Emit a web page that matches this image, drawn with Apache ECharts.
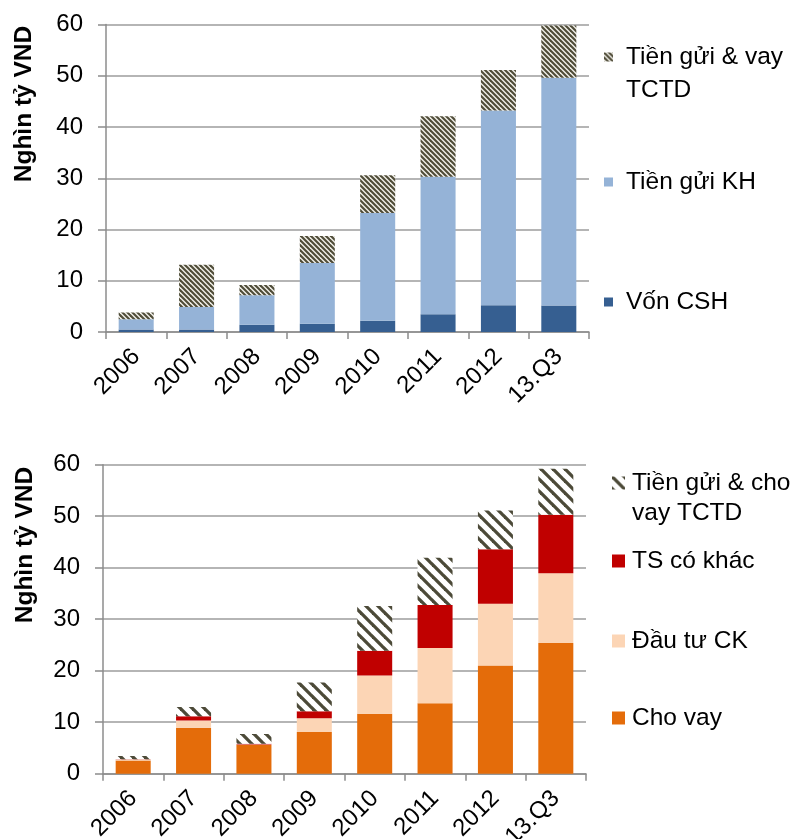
<!DOCTYPE html>
<html>
<head>
<meta charset="utf-8">
<script src="https://cdn.jsdelivr.net/npm/echarts@6/dist/echarts.min.js"></script>
<style>
  html, body { margin: 0; padding: 0; background: #fff; }
  #chart { width: 792px; height: 839px; }
</style>
</head>
<body>
<div id="chart"></div>
<script>
// Categories (shared by both panels)
const years = ['2006', '2007', '2008', '2009', '2010', '2011', '2012', '13.Q3'];
const yTicks = [0, 10, 20, 30, 40, 50, 60];

// Upper panel: funding sources (nghìn tỷ VND)
const vonCSH = [0.5, 0.5, 1.4, 1.6, 2.2, 3.45, 5.2, 5.15];
const tienGuiKH = [2.0, 4.4, 5.75, 11.85, 21.0, 26.85, 38.0, 44.45];
const tienGuiVayTCTD = [1.3, 8.2, 2.0, 5.3, 7.4, 11.8, 7.9, 10.2];

// Lower panel: asset structure (nghìn tỷ VND)
const choVay = [2.55, 8.9, 5.55, 8.1, 11.65, 13.7, 21.0, 25.4];
const dauTuCK = [0.2, 1.45, 0.1, 2.65, 7.4, 10.7, 12.0, 13.5];
const tsCoKhac = [0.05, 0.8, 0.15, 1.4, 4.8, 8.35, 10.6, 11.4];
const tienGuiChoVayTCTD = [0.65, 1.8, 1.9, 5.55, 8.7, 9.2, 7.5, 8.9];

const FONT = '"Liberation Sans", Arial, sans-serif';

// Diagonal "\" hatch tile
function hatch(period, tile, lineW, fg, bg) {
  const c = document.createElement('canvas');
  c.width = tile; c.height = tile;
  const g = c.getContext('2d');
  g.fillStyle = bg; g.fillRect(0, 0, tile, tile);
  g.strokeStyle = fg; g.lineWidth = lineW;
  for (let o = -2 * tile; o <= 2 * tile; o += period) {
    g.beginPath();
    g.moveTo(o - tile, -tile);
    g.lineTo(o + 2 * tile, 2 * tile);
    g.stroke();
  }
  return { image: c, repeat: 'repeat' };
}
const hatchFine = hatch(5, 10, 2.1, '#4f4c38', '#f2f1ea');
const hatchWide = hatch(12, 12, 3.3, '#4c4a38', '#ffffff');

const gridLine = { show: true, lineStyle: { color: '#9c9c9c', width: 1.5 } };
const axisLine = { show: true, lineStyle: { color: '#8c8c8c', width: 1.5 } };

function xAxis(gridIndex) {
  return {
    type: 'category', gridIndex, data: years,
    boundaryGap: true,
    axisLine: axisLine,
    axisTick: { show: true, length: 7, alignWithLabel: false, interval: 0, lineStyle: { color: '#8c8c8c', width: 1.5 } },
    axisLabel: { interval: 0, rotate: 45, fontSize: 24, fontFamily: FONT, color: '#000', margin: 21 }
  };
}
function yAxis(gridIndex) {
  return {
    type: 'value', gridIndex, min: yTicks[0], max: yTicks[yTicks.length - 1], interval: 10,
    axisLine: axisLine,
    axisTick: { show: true, length: 8, lineStyle: { color: '#8c8c8c', width: 1.5 } },
    axisLabel: { fontSize: 24, fontFamily: FONT, color: '#000', margin: 23 },
    splitLine: gridLine
  };
}
function bar(name, data, color, idx, stack) {
  return {
    name, type: 'bar', stack, data, xAxisIndex: idx, yAxisIndex: idx,
    barWidth: '58%', itemStyle: { color }, emphasis: { disabled: true }
  };
}
function legendItem(name, left, top, size, lineHeight, pad) {
  return {
    data: [name], left, top, orient: 'vertical', padding: 0,
    icon: 'rect', itemWidth: size, itemHeight: size, selectedMode: false,
    formatter: (n) => n === 'Tiền gửi & vay TCTD' ? ' \nTiền gửi & vay\nTCTD'
                    : n === 'Tiền gửi & cho vay TCTD' ? ' \nTiền gửi & cho\nvay TCTD' : n,
    textStyle: { fontSize: 24.5, fontFamily: FONT, color: '#000', lineHeight, padding: [0, 0, 0, pad] }
  };
}

const option = {
  animation: false,
  backgroundColor: '#fff',
  grid: [
    { left: 106, right: 203, top: 24.5, bottom: 507, containLabel: false, outerBoundsMode: 'none' },
    { left: 103, right: 206, top: 464.7, bottom: 65.3, containLabel: false, outerBoundsMode: 'none' }
  ],
  xAxis: [xAxis(0), xAxis(1)],
  yAxis: [yAxis(0), yAxis(1)],
  legend: [
    legendItem('Tiền gửi & vay TCTD', 604, 57 - 49.5, 9, 33, 8),
    legendItem('Tiền gửi KH', 604, 182 - 16.5, 9, 33, 8),
    legendItem('Vốn CSH', 604, 302 - 16.5, 9, 33, 8),
    legendItem('Tiền gửi & cho vay TCTD', 612, 483 - 45, 13, 30, 2),
    legendItem('TS có khác', 612, 561 - 15, 13, 30, 2),
    legendItem('Đầu tư CK', 612, 641 - 15, 13, 30, 2),
    legendItem('Cho vay', 612, 718 - 15, 13, 30, 2)
  ],
  graphic: [
    { type: 'text', x: 24, y: 104, rotation: Math.PI / 2,
      style: { text: 'Nghìn tỷ VND', font: 'bold 24.5px ' + FONT, fill: '#000', align: 'center', verticalAlign: 'middle' } },
    { type: 'text', x: 25, y: 545, rotation: Math.PI / 2,
      style: { text: 'Nghìn tỷ VND', font: 'bold 24.5px ' + FONT, fill: '#000', align: 'center', verticalAlign: 'middle' } }
  ],
  series: [
    bar('Vốn CSH', vonCSH, '#365f91', 0, 'nguon'),
    bar('Tiền gửi KH', tienGuiKH, '#95b3d7', 0, 'nguon'),
    bar('Tiền gửi & vay TCTD', tienGuiVayTCTD, hatchFine, 0, 'nguon'),
    bar('Cho vay', choVay, '#e46c0a', 1, 'taisan'),
    bar('Đầu tư CK', dauTuCK, '#fcd5b5', 1, 'taisan'),
    bar('TS có khác', tsCoKhac, '#c00000', 1, 'taisan'),
    bar('Tiền gửi & cho vay TCTD', tienGuiChoVayTCTD, hatchWide, 1, 'taisan')
  ]
};

echarts.init(document.getElementById('chart'), null, { renderer: 'canvas' }).setOption(option);
</script>
</body>
</html>
